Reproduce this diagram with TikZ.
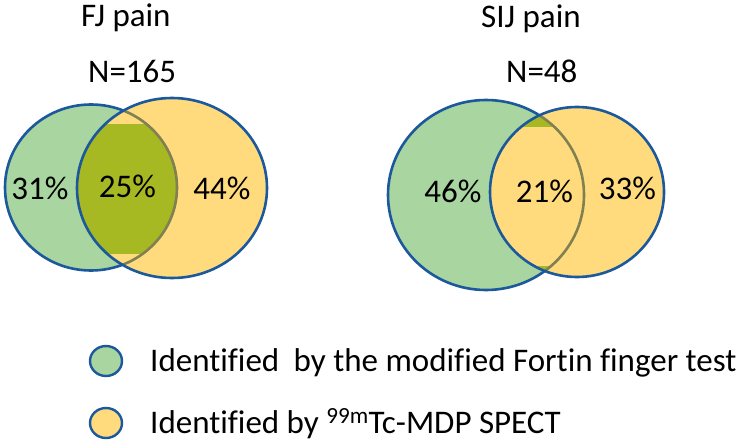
\documentclass[tikz,border=0pt]{standalone}
\usepackage{fontspec}
\usepackage{graphicx}
\setmainfont{Carlito}[Ligatures=NoCommon]
\definecolor{vgreen}{RGB}{168,213,160}
\definecolor{vyellow}{RGB}{255,219,125}
\definecolor{volive}{RGB}{166,184,34}
\definecolor{vblue}{RGB}{28,88,156}
\definecolor{vgrey}{RGB}{128,128,82}
\tikzset{
  lbl/.style={font=\fontsize{33}{39}\selectfont, inner sep=0pt, text=black},
  border/.style={draw=vblue, line width=2.6pt},
  greyarc/.style={draw=vgrey, line width=2.6pt}
}
\begin{document}
\begin{tikzpicture}[x=1pt,y=-1pt]
\useasboundingbox (0,0) rectangle (743,446);
% ---------- left Venn (FJ) ----------
\fill[vgreen] (91,187.5) ellipse [x radius=86, y radius=83];
\draw[border] (91,187.5) ellipse [x radius=86, y radius=83];
\fill[vyellow] (172,188) ellipse [x radius=95, y radius=90];
\begin{scope}
  \clip (91,187.5) ellipse [x radius=86, y radius=83];
  \clip (0,125) rectangle (400,253);
  \fill[volive] (172,188) ellipse [x radius=95, y radius=90];
\end{scope}
\begin{scope}
  \clip (172,188) ellipse [x radius=95, y radius=90];
  \draw[greyarc] (91,187.5) ellipse [x radius=86, y radius=83];
\end{scope}
\draw[border] (172,188) ellipse [x radius=95, y radius=90];
% ---------- right Venn (SIJ) ----------
\fill[vgreen] (486,195) ellipse [x radius=98, y radius=95];
\draw[border] (486,195) ellipse [x radius=98, y radius=95];
\fill[vyellow] (577,192) ellipse [x radius=87, y radius=85];
\begin{scope}
  \clip (486,195) ellipse [x radius=98, y radius=95];
  \clip (380,90) rectangle (700,127) (380,266) rectangle (700,300);
  \fill[volive] (577,192) ellipse [x radius=87, y radius=85];
\end{scope}
\begin{scope}
  \clip (577,192) ellipse [x radius=87, y radius=85];
  \draw[greyarc] (486,195) ellipse [x radius=98, y radius=95];
\end{scope}
\draw[border] (577,192) ellipse [x radius=87, y radius=85];
% ---------- titles ----------
\node[lbl, anchor=base west] (fjt) at (81,27) {FJ pain};
\node[lbl, anchor=base west] (fjn) at (88,83) {N=165};
\node[lbl, anchor=base west] (sijt) at (481,28) {SIJ pain};
\node[lbl, anchor=base west] (sijn) at (506,83) {N=48};
% ---------- percentages ----------
\node[lbl, anchor=base] (p31) at (40,200) {31\%};
\node[lbl, anchor=base] (p25) at (127.5,198) {25\%};
\node[lbl, anchor=base] (p44) at (222,200) {44\%};
\node[lbl, anchor=base] (p46) at (453,203) {46\%};
\node[lbl, anchor=base] (p21) at (544.5,203) {21\%};
\node[lbl, anchor=base] (p33) at (627.5,200) {33\%};
% ---------- legend ----------
\fill[vgreen] (106,361) ellipse [x radius=16, y radius=15];
\draw[vblue, line width=2.4pt] (106,361) ellipse [x radius=16, y radius=15];
\fill[vyellow] (106,423) ellipse [x radius=16, y radius=15];
\draw[vblue, line width=2.4pt] (106,423) ellipse [x radius=16, y radius=15];
\node[lbl, anchor=base west] (leg1) at (150,371) {Identified\hspace{7pt} by the modified Fortin finger test};
\node[lbl, anchor=base west] (leg2) at (150,433) {Identified by \textsuperscript{99m}Tc-MDP SPECT};
\end{tikzpicture}
\end{document}
